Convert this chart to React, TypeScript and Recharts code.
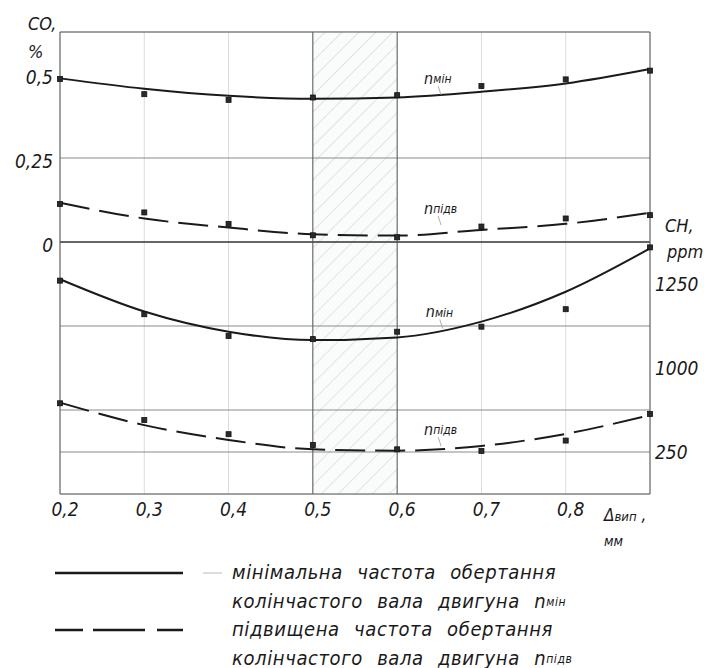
import { ComposedChart, Line, XAxis, YAxis, CartesianGrid, ReferenceLine, ReferenceArea, ReferenceDot } from "recharts";

const X = [0.2, 0.3, 0.4, 0.5, 0.6, 0.7, 0.8, 0.9];
// CO, % (measured points and fitted curve)
const coMinPts = [0.485, 0.44, 0.423, 0.43, 0.437, 0.464, 0.484, 0.51];
const coMinFit = [0.487, 0.456, 0.435, 0.426, 0.43, 0.447, 0.472, 0.515];
const coPidvPts = [0.113, 0.088, 0.054, 0.02, 0.014, 0.046, 0.07, 0.08];
const coPidvFit = [0.117, 0.07, 0.043, 0.023, 0.019, 0.036, 0.054, 0.087];
// CH, ppm
const chMinPts = [1260, 1160, 1095, 1086, 1108, 1123, 1175, 1359];
const chMinFit = [1264, 1168, 1108, 1083, 1091, 1138, 1227, 1356];
const chPidvPts = [395, 345, 303, 271, 258, 253, 284, 363];
const chPidvFit = [397, 330, 286, 258, 254, 268, 304, 360];

const xTicks = [0.2, 0.3, 0.4, 0.5, 0.6, 0.7, 0.8, 0.9];
const coTicks = [-0.75, -0.625, -0.5, -0.375, -0.25, -0.125, 0, 0.125, 0.25, 0.375, 0.5, 0.625];
const coLabels: Record<string, string> = { "0": "0", "0.25": "0,25", "0.5": "0,5" };
const chMinTicks = [1000, 1250];
const chPidvMark = 250;

const legendRows = [
  { dash: "", lines: ["мінімальна частота обертання", "колінчастого вала двигуна "], sub: "мін" },
  { dash: "28 10 52 12 26", lines: ["підвищена частота обертання", "колінчастого вала двигуна "], sub: "підв" },
];

const data = X.map((x, i) => ({
  x,
  coMinPts: coMinPts[i],
  coMinFit: coMinFit[i],
  coPidvPts: coPidvPts[i],
  coPidvFit: coPidvFit[i],
  chMinPts: chMinPts[i],
  chMinFit: chMinFit[i],
  chPidvPts: chPidvPts[i],
  chPidvFit: chPidvFit[i],
}));

const FONT = '"DejaVu Sans Condensed", "DejaVu Sans", sans-serif';
const INK = "#1a1a1a";
const DASH = "30 10";

const Square = (p: any) => {
  if (p.cx == null || p.cy == null) return <g key={p.index} />;
  return <rect key={p.index} x={p.cx - 2.5} y={p.cy - 2.5} width={5} height={5} fill="#2a2a2a" stroke="#111" strokeWidth={0.8} />;
};

const Annot = (sub: string) => (p: any) => (
  <g>
    <text x={p.cx} y={p.cy} fontFamily={FONT} fontStyle="italic" fontSize={16} fill={INK} dominantBaseline="middle">
      n<tspan fontSize={12}>{sub}</tspan>
    </text>
    <line x1={p.cx + 14} y1={p.cy + 7} x2={p.cx + 17} y2={p.cy + 16} stroke="#999" strokeWidth={0.8} />
  </g>
);

export default function App() {
  return (
    <div style={{ position: "absolute", left: 0, top: 0, width: 704, height: 668, background: "#fff" }}>
      <ComposedChart width={704} height={560} data={data} margin={{ top: 32, right: 0, bottom: 0, left: 10 }}>
        <defs>
          <pattern id="hatch" patternUnits="userSpaceOnUse" width={12} height={12} patternTransform="rotate(45)">
            <rect width={12} height={12} fill="#fafcfc" />
            <line x1={0} y1={0} x2={0} y2={12} stroke="#c4cccc" strokeWidth={1} />
          </pattern>
        </defs>
        <CartesianGrid stroke="#dcdcdc" strokeWidth={1} />
        <ReferenceArea x1={0.5} x2={0.6} yAxisId="co" fill="url(#hatch)" fillOpacity={1} stroke="none" />
        <XAxis
          type="number"
          dataKey="x"
          domain={[0.2, 0.9]}
          ticks={xTicks}
          height={66}
          tickLine={false}
          tickSize={0}
          tickMargin={9}
          axisLine={{ stroke: "#555" }}
          tickFormatter={(v: number) => (v >= 0.89 ? "" : v.toFixed(1).replace(".", ","))}
          tick={{ fontFamily: FONT, fontStyle: "italic", fontSize: 19, fill: INK, dx: 5 }}
          label={{
            content: (props: any) => {
              const vb = props.viewBox;
              const x = vb.x + vb.width - 46;
              return (
                <g fontFamily={FONT} fontStyle="italic" fill={INK}>
                  <text x={x} y={vb.y + 27} fontSize={17}>
                    Δ<tspan fontSize={13}>вип</tspan> ,
                  </text>
                  <text x={x} y={vb.y + 52} fontSize={14}>мм</text>
                </g>
              );
            },
          }}
        />
        <YAxis
          yAxisId="co"
          orientation="left"
          domain={[-0.75, 0.625]}
          ticks={coTicks}
          width={50}
          tickLine={false}
          tickSize={0}
          tickMargin={7}
          axisLine={{ stroke: "#555" }}
          tickFormatter={(v: number) => coLabels[String(v)] ?? ""}
          tick={{ fontFamily: FONT, fontStyle: "italic", fontSize: 19, fill: INK, dy: 3 }}
          label={{
            content: (props: any) => {
              const vb = props.viewBox;
              return (
                <g fontFamily={FONT} fontStyle="italic" fill={INK} fontSize={18}>
                  <text x={vb.x + 18} y={30}>CO,</text>
                  <text x={vb.x + 18} y={58}>%</text>
                </g>
              );
            },
          }}
        />
        <YAxis
          yAxisId="chMin"
          orientation="right"
          domain={[625, 2000]}
          ticks={chMinTicks}
          width={54}
          tickLine={false}
          tickSize={0}
          tickMargin={5}
          axisLine={{ stroke: "#555" }}
          tick={{ fontFamily: FONT, fontStyle: "italic", fontSize: 19, fill: INK, textAnchor: "start" }}
          label={{
            content: (props: any) => {
              const vb = props.viewBox;
              return (
                <g fontFamily={FONT} fontStyle="italic" fill={INK} fontSize={18}>
                  <text x={vb.x + 15} y={232}>CH,</text>
                  <text x={vb.x + 17} y={258}>ppm</text>
                </g>
              );
            },
          }}
        />
        <YAxis yAxisId="chPidv" orientation="right" domain={[125, 1500]} hide />
        <ReferenceLine yAxisId="co" y={0.25} stroke="#8a8a8a" />
        <ReferenceLine yAxisId="co" y={-0.25} stroke="#8a8a8a" />
        <ReferenceLine yAxisId="co" y={-0.5} stroke="#8a8a8a" />
        <ReferenceLine
          yAxisId="chPidv"
          y={chPidvMark}
          stroke="#8a8a8a"
          label={{ value: String(chPidvMark), position: "right", offset: 5, fontFamily: FONT, fontStyle: "italic", fontSize: 19, fill: INK }}
        />
        <ReferenceLine yAxisId="co" y={0} stroke="#333" strokeWidth={1.3} />
        <ReferenceLine yAxisId="co" y={0.625} stroke="#555" />
        <ReferenceLine yAxisId="co" x={0.5} stroke="#555" />
        <ReferenceLine yAxisId="co" x={0.6} stroke="#555" />

        <Line yAxisId="co" dataKey="coMinFit" type="monotone" stroke={INK} strokeWidth={2} dot={false} isAnimationActive={false} />
        <Line yAxisId="co" dataKey="coPidvFit" type="monotone" stroke={INK} strokeWidth={2} strokeDasharray={DASH} dot={false} isAnimationActive={false} />
        <Line yAxisId="chMin" dataKey="chMinFit" type="monotone" stroke={INK} strokeWidth={2} dot={false} isAnimationActive={false} />
        <Line yAxisId="chPidv" dataKey="chPidvFit" type="monotone" stroke={INK} strokeWidth={2} strokeDasharray={DASH} dot={false} isAnimationActive={false} />

        <Line yAxisId="co" dataKey="coMinPts" stroke="none" dot={Square} activeDot={false} isAnimationActive={false} />
        <Line yAxisId="co" dataKey="coPidvPts" stroke="none" dot={Square} activeDot={false} isAnimationActive={false} />
        <Line yAxisId="chMin" dataKey="chMinPts" stroke="none" dot={Square} activeDot={false} isAnimationActive={false} />
        <Line yAxisId="chPidv" dataKey="chPidvPts" stroke="none" dot={Square} activeDot={false} isAnimationActive={false} />

        <ReferenceDot yAxisId="co" x={0.632} y={0.485} shape={Annot("мін")} />
        <ReferenceDot yAxisId="co" x={0.632} y={0.098} shape={Annot("підв")} />
        <ReferenceDot yAxisId="chMin" x={0.634} y={1165} shape={Annot("мін")} />
        <ReferenceDot yAxisId="chPidv" x={0.632} y={315} shape={Annot("підв")} />
      </ComposedChart>

      <div style={{ position: "absolute", left: 0, top: 556 }}>
        <svg width={704} height={112}>
          {legendRows.map((r, i) => {
            const y = 17 + i * 57;
            return (
              <g key={i}>
                <line x1={55} y1={y} x2={183} y2={y} stroke={INK} strokeWidth={2.5} strokeDasharray={r.dash || undefined} />
                {i === 0 && <line x1={203} y1={y} x2={222} y2={y} stroke="#aaa" strokeWidth={0.8} />}
                <g fontFamily={FONT} fontStyle="italic" fontSize={20} fill={INK} wordSpacing={8} letterSpacing={0.6}>
                  <text x={232} y={y} dominantBaseline="middle">{r.lines[0]}</text>
                  <text x={232} y={y + 29} dominantBaseline="middle">
                    {r.lines[1]}n<tspan fontSize={12}>{r.sub}</tspan>
                  </text>
                </g>
              </g>
            );
          })}
        </svg>
      </div>
    </div>
  );
}
